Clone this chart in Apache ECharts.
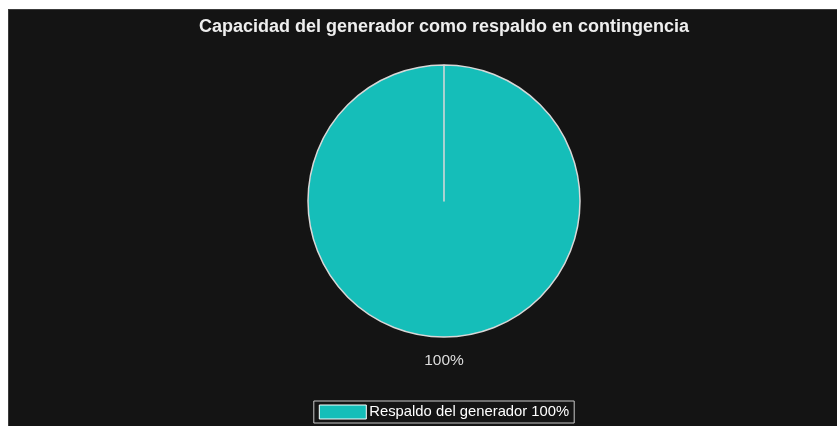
<!DOCTYPE html>
<html>
<head>
<meta charset="utf-8">
<script src="https://cdn.jsdelivr.net/npm/echarts@6/dist/echarts.min.js"></script>
<style>
  html, body { margin: 0; padding: 0; background: #ffffff; overflow: hidden; }
  #chart {
    position: absolute; left: 8px; top: 9px;
    width: 872px; height: 417px;
    background: #141414;
    box-shadow: inset 1px 1px 0 #3c3c3c;
  }
</style>
</head>
<body>
<div id="chart"></div>
<script>
// Generator backup capacity during contingency
const titleText = 'Capacidad del generador como respaldo en contingencia';
const categories = ['Respaldo del generador'];
const values = [100];
const colors = ['#15beb9'];

const total = values.reduce((a, b) => a + b, 0);
const pct = v => Math.round(v / total * 100) + '%';

const chart = echarts.init(document.getElementById('chart'), null, { renderer: 'canvas' });
chart.setOption({
  backgroundColor: 'transparent',
  animation: false,
  textStyle: { fontFamily: '"Liberation Sans", Arial, sans-serif' },
  title: {
    text: titleText,
    left: 'center',
    top: 4,
    textStyle: { color: '#eeeeee', fontSize: 18, fontWeight: 'bold', fontFamily: '"Liberation Sans", Arial, sans-serif' }
  },
  legend: {
    bottom: 3,
    left: 'center',
    itemWidth: 47,
    itemHeight: 14,
    itemGap: 6,
    padding: [3, 5, 3, 5],
    borderColor: '#c8c8c8',
    borderWidth: 1,
    borderRadius: 0,
    icon: 'rect',
    itemStyle: { borderColor: '#ffffff', borderWidth: 1 },
    textStyle: { color: '#ffffff', fontSize: 14.8, lineHeight: 16, padding: [0, 0, 0, -2] },
    formatter: name => name + ' ' + pct(values[categories.indexOf(name)]),
    data: categories
  },
  series: [{
    type: 'pie',
    center: ['50%', 192],
    radius: [0, 136],
    startAngle: 90,
    endAngle: 90 - 359.99,
    clockwise: true,
    color: colors,
    itemStyle: { borderColor: '#d8d8d8', borderWidth: 1.5 },
    label: {
      show: true,
      position: 'outside',
      formatter: p => pct(p.value),
      color: '#dddddd',
      fontSize: 15.5
    },
    labelLine: { show: false },
    // centre the value label just below the pie
    labelLayout: p => ({
      x: p.rect.x + p.rect.width / 2,
      y: p.rect.y + p.rect.height + 23,
      align: 'center',
      verticalAlign: 'middle'
    }),
    emphasis: { disabled: true },
    data: categories.map((c, i) => ({ name: c, value: values[i] }))
  }]
});
</script>
</body>
</html>
